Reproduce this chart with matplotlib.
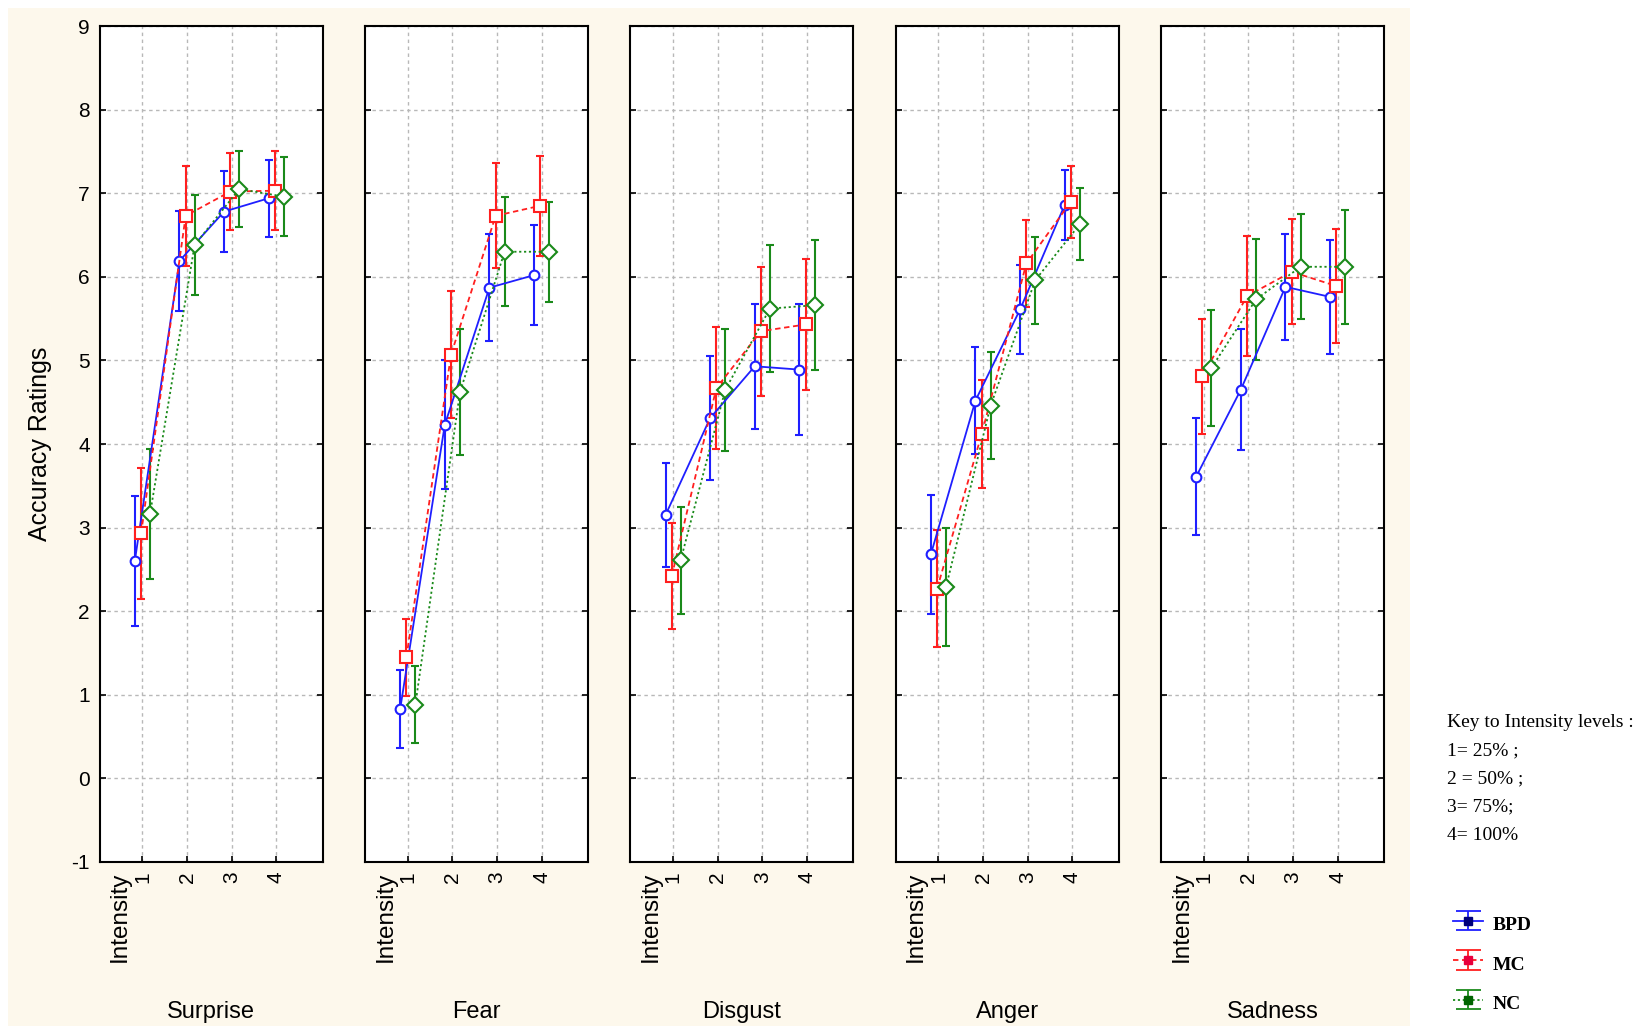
import numpy as np
import matplotlib.pyplot as plt
from matplotlib.patches import Rectangle

plt.rcParams["font.family"] = ["Liberation Sans", "DejaVu Sans"]
plt.rcParams["axes.unicode_minus"] = False

emotions = ["Surprise", "Fear", "Disgust", "Anger", "Sadness"]
levels = [1, 2, 3, 4]

# means per emotion (rows) and intensity level (columns)
bpd_mean = [[2.60, 6.19, 6.78, 6.94],
            [0.83, 4.23, 5.87, 6.02],
            [3.15, 4.31, 4.93, 4.89],
            [2.68, 4.52, 5.61, 6.86],
            [3.61, 4.65, 5.88, 5.76]]
mc_mean = [[2.93, 6.73, 7.02, 7.03],
           [1.45, 5.07, 6.73, 6.85],
           [2.42, 4.67, 5.35, 5.43],
           [2.27, 4.12, 6.16, 6.90],
           [4.81, 5.77, 6.06, 5.89]]
nc_mean = [[3.16, 6.38, 7.05, 6.96],
           [0.88, 4.62, 6.30, 6.30],
           [2.61, 4.65, 5.62, 5.66],
           [2.29, 4.46, 5.96, 6.63],
           [4.91, 5.73, 6.12, 6.12]]

bpd_err = [[0.78, 0.60, 0.48, 0.46],
           [0.47, 0.77, 0.64, 0.60],
           [0.62, 0.74, 0.75, 0.78],
           [0.71, 0.64, 0.53, 0.42],
           [0.70, 0.72, 0.63, 0.68]]
mc_err = [[0.78, 0.60, 0.46, 0.47],
          [0.46, 0.76, 0.63, 0.60],
          [0.63, 0.73, 0.77, 0.78],
          [0.70, 0.65, 0.52, 0.43],
          [0.69, 0.72, 0.63, 0.68]]
nc_err = [[0.78, 0.60, 0.46, 0.47],
          [0.46, 0.75, 0.65, 0.60],
          [0.64, 0.73, 0.76, 0.78],
          [0.71, 0.64, 0.52, 0.43],
          [0.69, 0.72, 0.63, 0.68]]

groups = [
    ("BPD", bpd_mean, bpd_err, "#1f1fff", "#00007a", "-", "o", 7, -0.17),
    ("MC", mc_mean, mc_err, "#ff1f1f", "#e8003c", (0, (3, 2)), "s", 9, -0.03),
    ("NC", nc_mean, nc_err, "#1a8a1a", "#006400", (0, (1.2, 1.5)), "D", 8, 0.17),
]

fig = plt.figure(figsize=(16.43, 10.29), dpi=100)
fig.patch.set_facecolor("white")
fig.add_artist(Rectangle((0.005, 0.003), 0.853, 0.989, transform=fig.transFigure,
                         facecolor="#fdf8ec", edgecolor="none", zorder=-10))

left0, step, width = 0.0606, 0.1615, 0.1358
bottom, height = 0.1623, 0.8124

axes = []
for i, emo in enumerate(emotions):
    ax = fig.add_axes([left0 + i * step, bottom, width, height])
    axes.append(ax)
    ax.set_facecolor("white")
    for name, means, errs, color, dark, ls, mk, ms, off in groups:
        xs = [lv + off for lv in levels]
        ax.errorbar(xs, means[i], yerr=errs[i], color=color, ls=ls, lw=1.3,
                    marker=mk, ms=ms, mfc="white", mec=color, mew=1.5,
                    elinewidth=1.5, capsize=3, capthick=1.3, zorder=3)
    ax.set_xlim(0.04, 5.04)
    ax.set_ylim(-1, 9)
    ax.set_xticks(levels)
    ax.set_xticklabels([str(lv) for lv in levels], rotation=90, fontsize=15)
    ax.set_yticks(range(-1, 10))
    ax.grid(True, color="#b8b8b8", ls=(0, (2.5, 2.5)), lw=1.0)
    ax.tick_params(axis="both", direction="in", length=4, width=1.2,
                   right=True, labelsize=15, pad=7)
    if i > 0:
        ax.tick_params(axis="y", labelleft=False)
    else:
        ax.set_ylabel("Accuracy Ratings", fontsize=18, labelpad=14)
    for sp in ax.spines.values():
        sp.set_linewidth(1.5)
    ax.text(0.5, -0.012, "Intensity", transform=ax.get_xaxis_transform(),
            rotation=90, ha="center", va="top", fontsize=17.5)
    ax.text(0.5, -0.18, emo, transform=ax.transAxes, ha="center", va="center",
            fontsize=17)

key_lines = ["Key to Intensity levels :", "1= 25% ;", "2 = 50% ;", "3= 75%;", "4= 100%"]
for k, line in enumerate(key_lines):
    fig.text(0.881, 0.298 - k * 0.0275, line, fontsize=14,
             family=["Liberation Serif", "DejaVu Serif"], va="center")

# legend proxies: error-bar glyphs with filled dark square markers
handles = []
for name, means, errs, color, dark, ls, mk, ms, off in groups:
    eb = axes[-1].errorbar([np.nan], [np.nan], yerr=[1.0], color=color, ls=ls,
                           lw=1.3, marker="s", ms=6, mfc=dark, mec=dark,
                           elinewidth=1.3, capsize=9, capthick=1.3)
    handles.append(eb)
fig.legend(handles, [g[0] for g in groups], loc="center left",
           bbox_to_anchor=(0.874, 0.064), frameon=False, handlelength=1.5,
           handleheight=1.6, labelspacing=0.75, handletextpad=0.5,
           prop={"family": "Liberation Serif", "weight": "bold", "size": 14})

fig.savefig("out.png", dpi=100)
